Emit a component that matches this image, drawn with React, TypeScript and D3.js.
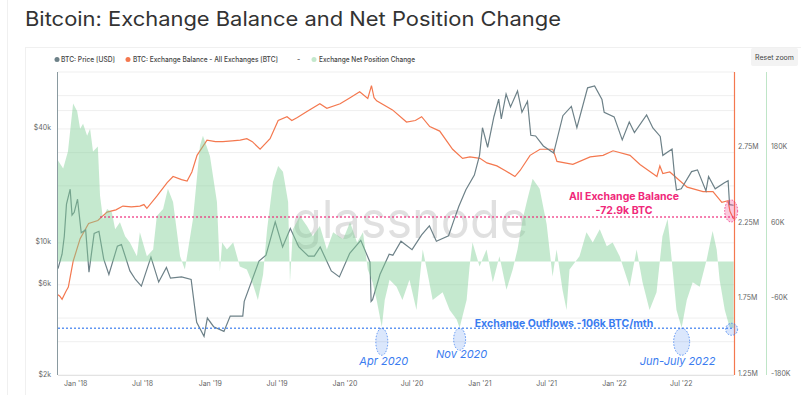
import React from "react";
import * as d3 from "d3";

// BTC price, USD
const priceSeries: [string, number][] = [
  ["2017-11-14", 7300], ["2017-11-25", 8700], ["2017-12-01", 10800], ["2017-12-07", 16000],
  ["2017-12-17", 19200], ["2017-12-22", 14000], ["2017-12-28", 14500], ["2018-01-06", 17000],
  ["2018-01-16", 11300], ["2018-01-28", 11700], ["2018-02-06", 7000], ["2018-02-20", 11200],
  ["2018-03-05", 11500], ["2018-03-18", 8200], ["2018-04-01", 6800], ["2018-04-24", 9600],
  ["2018-05-05", 9800], ["2018-05-28", 7100], ["2018-06-12", 6400], ["2018-06-28", 5900],
  ["2018-07-24", 8400], ["2018-08-14", 6200], ["2018-09-04", 7400], ["2018-09-15", 6500],
  ["2018-10-15", 6600], ["2018-11-10", 6400], ["2018-11-20", 4500], ["2018-11-25", 3800],
  ["2018-12-15", 3200], ["2018-12-24", 4000], ["2019-01-10", 3600], ["2019-02-07", 3400],
  ["2019-02-24", 4100], ["2019-03-30", 4100], ["2019-04-03", 4900], ["2019-05-13", 8000],
  ["2019-06-01", 8600], ["2019-06-26", 12900], ["2019-07-16", 9500], ["2019-08-06", 11900],
  ["2019-08-29", 9500], ["2019-09-24", 8500], ["2019-10-10", 8500], ["2019-10-26", 9500],
  ["2019-11-25", 7100], ["2019-12-17", 6600], ["2020-01-14", 8800], ["2020-02-13", 10300],
  ["2020-03-09", 7900], ["2020-03-12", 4900], ["2020-03-16", 5000], ["2020-04-05", 6800],
  ["2020-04-30", 8700], ["2020-05-10", 8600], ["2020-06-01", 10200], ["2020-07-01", 9200],
  ["2020-07-27", 11000], ["2020-08-17", 12300], ["2020-09-05", 10200], ["2020-10-08", 10900],
  ["2020-10-21", 12900], ["2020-11-05", 15600], ["2020-11-24", 19100], ["2020-12-17", 22800],
  ["2020-12-31", 29000], ["2021-01-08", 40600], ["2021-01-22", 32000], ["2021-02-08", 46400],
  ["2021-02-21", 57500], ["2021-02-28", 45200], ["2021-03-13", 61200], ["2021-03-25", 52300],
  ["2021-04-13", 63500], ["2021-04-25", 49000], ["2021-05-10", 56000], ["2021-05-19", 37000],
  ["2021-06-01", 36700], ["2021-06-22", 32500], ["2021-07-20", 29800], ["2021-08-14", 47000],
  ["2021-09-06", 52600], ["2021-09-21", 40600], ["2021-10-20", 66000], ["2021-11-08", 67500],
  ["2021-11-28", 57200], ["2021-12-04", 49000], ["2021-12-31", 46300], ["2022-01-22", 35000],
  ["2022-02-10", 43500], ["2022-02-24", 38300], ["2022-03-29", 47400], ["2022-04-15", 40500],
  ["2022-05-05", 36500], ["2022-05-12", 29000], ["2022-06-06", 31300], ["2022-06-13", 22500],
  ["2022-06-18", 19000], ["2022-07-01", 19300], ["2022-07-29", 23800], ["2022-08-14", 24300],
  ["2022-09-06", 18800], ["2022-09-13", 22400], ["2022-10-01", 19300], ["2022-10-26", 20800],
  ["2022-11-05", 21300], ["2022-11-09", 15900], ["2022-11-20", 15800],
];

// exchange balance, millions of BTC
const balanceSeries: [string, number][] = [
  ["2017-11-14", 1.78], ["2017-11-19", 1.77], ["2017-11-25", 1.75], ["2017-12-05", 1.8],
  ["2017-12-12", 1.83], ["2017-12-25", 2.0], ["2018-01-13", 2.15], ["2018-02-05", 2.25],
  ["2018-03-02", 2.27], ["2018-03-27", 2.325], ["2018-04-20", 2.34], ["2018-05-09", 2.365],
  ["2018-06-01", 2.36], ["2018-06-24", 2.365], ["2018-07-05", 2.375], ["2018-07-13", 2.35],
  ["2018-08-09", 2.43], ["2018-09-06", 2.52], ["2018-09-22", 2.56], ["2018-10-15", 2.54],
  ["2018-10-30", 2.53], ["2018-11-12", 2.59], ["2018-11-26", 2.7], ["2018-12-23", 2.8],
  ["2019-01-15", 2.79], ["2019-02-04", 2.79], ["2019-03-01", 2.795], ["2019-03-23", 2.8],
  ["2019-04-10", 2.81], ["2019-04-25", 2.79], ["2019-05-16", 2.74], ["2019-06-12", 2.81],
  ["2019-07-04", 2.93], ["2019-07-28", 2.955], ["2019-08-10", 2.93], ["2019-08-25", 2.95],
  ["2019-09-20", 2.99], ["2019-10-25", 3.04], ["2019-11-13", 3.01], ["2019-12-19", 3.04],
  ["2020-01-15", 3.08], ["2020-02-10", 3.12], ["2020-03-03", 3.075], ["2020-03-13", 3.16],
  ["2020-03-20", 3.08], ["2020-03-27", 3.06], ["2020-05-09", 3.0], ["2020-06-16", 2.92],
  ["2020-07-10", 2.93], ["2020-07-27", 2.955], ["2020-08-18", 2.89], ["2020-09-14", 2.86],
  ["2020-10-19", 2.74], ["2020-11-15", 2.68], ["2020-12-05", 2.69], ["2021-01-01", 2.68],
  ["2021-01-20", 2.65], ["2021-02-16", 2.63], ["2021-03-10", 2.6], ["2021-04-06", 2.56],
  ["2021-04-20", 2.6], ["2021-05-17", 2.7], ["2021-06-13", 2.74], ["2021-07-18", 2.74],
  ["2021-07-29", 2.66], ["2021-09-10", 2.64], ["2021-10-27", 2.69], ["2021-12-01", 2.7],
  ["2021-12-28", 2.73], ["2022-02-12", 2.7], ["2022-03-11", 2.64], ["2022-04-26", 2.56],
  ["2022-05-04", 2.63], ["2022-05-12", 2.58], ["2022-05-31", 2.59], ["2022-07-17", 2.49],
  ["2022-08-29", 2.46], ["2022-09-25", 2.46], ["2022-10-19", 2.39], ["2022-11-05", 2.4],
  ["2022-11-10", 2.33], ["2022-11-20", 2.28],
];

// 30d exchange net position change, thousands of BTC
const netSeries: [string, number][] = [
  ["2017-11-14", 160], ["2017-11-28", 147], ["2017-12-11", 174], ["2017-12-25", 250],
  ["2018-01-05", 238], ["2018-01-13", 210], ["2018-01-21", 218], ["2018-02-01", 199],
  ["2018-02-09", 210], ["2018-02-17", 174], ["2018-03-02", 182], ["2018-03-08", 104],
  ["2018-03-16", 67], ["2018-03-27", 83], ["2018-04-09", 78], ["2018-04-18", 51],
  ["2018-05-01", 62], ["2018-05-15", 40], ["2018-05-28", 30], ["2018-06-16", 8],
  ["2018-06-24", 46], ["2018-07-13", 8], ["2018-07-30", 19], ["2018-08-09", 72],
  ["2018-08-26", 83], ["2018-09-08", 115], ["2018-09-22", 94], ["2018-10-11", 8],
  ["2018-10-24", -13], ["2018-11-15", 67], ["2018-12-04", 183], ["2018-12-12", 199],
  ["2018-12-31", 167], ["2019-01-19", 94], ["2019-01-27", -16], ["2019-02-02", 30],
  ["2019-02-15", 19], ["2019-03-04", 30], ["2019-03-22", -8], ["2019-04-10", -13],
  ["2019-04-27", -37], ["2019-05-10", -61], ["2019-05-24", -21], ["2019-06-04", 51],
  ["2019-06-20", 126], ["2019-07-04", 151], ["2019-07-17", 142], ["2019-07-31", 94],
  ["2019-08-05", -33], ["2019-08-13", 51], ["2019-09-01", 72], ["2019-09-20", 56],
  ["2019-10-06", 40], ["2019-10-25", 56], ["2019-11-13", 19], ["2019-11-30", 46],
  ["2019-12-27", 35], ["2020-01-15", 62], ["2020-02-03", 30], ["2020-02-19", 46],
  ["2020-03-03", -13], ["2020-03-16", -33], ["2020-03-27", -61], ["2020-04-10", -104],
  ["2020-04-18", -61], ["2020-05-01", -29], ["2020-05-20", -40], ["2020-06-05", -61],
  ["2020-06-24", -29], ["2020-07-13", -77], ["2020-07-30", 19], ["2020-08-10", -13],
  ["2020-08-26", -61], ["2020-09-22", -49], ["2020-10-11", -77], ["2020-10-30", -92],
  ["2020-11-07", -105], ["2020-11-26", -61], ["2020-12-04", -8], ["2020-12-12", 30],
  ["2020-12-31", -8], ["2021-01-19", 19], ["2021-02-05", -33], ["2021-02-23", 8],
  ["2021-03-14", -45], ["2021-03-31", -13], ["2021-04-13", 19], ["2021-04-27", 67],
  ["2021-05-10", 99], ["2021-05-24", 131], ["2021-06-12", 115], ["2021-07-01", 59],
  ["2021-07-17", -24], ["2021-07-28", 19], ["2021-08-13", -45], ["2021-08-24", -77],
  ["2021-09-01", -13], ["2021-09-28", 8], ["2021-10-17", 46], ["2021-11-03", 30],
  ["2021-11-22", 51], ["2021-12-11", 24], ["2021-12-27", 30], ["2022-01-15", 8],
  ["2022-02-11", -40], ["2022-03-02", 19], ["2022-03-18", -33], ["2022-04-06", -77],
  ["2022-04-25", -49], ["2022-05-11", 40], ["2022-05-25", 67], ["2022-06-05", 3],
  ["2022-06-18", -77], ["2022-07-02", -105], ["2022-07-16", -61], ["2022-08-01", -33],
  ["2022-08-20", -40], ["2022-09-08", 3], ["2022-09-24", 48], ["2022-10-05", 19],
  ["2022-10-13", -29], ["2022-10-27", -77], ["2022-11-09", -104], ["2022-11-20", -106],
];

const priceTicks = [2000, 6000, 10000, 40000];
const priceGrid = [2000, 3000, 4000, 6000, 10000, 20000, 30000, 40000, 50000, 60000, 80000];
const balanceTicks = [1.25, 1.75, 2.25, 2.75];
const netTicks = [-180, -60, 60, 180];
const xTicks = ["2018-01-01", "2018-07-01", "2019-01-01", "2019-07-01", "2020-01-01",
  "2020-07-01", "2021-01-01", "2021-07-01", "2022-01-01", "2022-07-01"];

const balanceMarker = 2.293; // M BTC, dashed reference
const outflowMarker = -106; // K BTC/mth
const outflowEvents = [
  { date: "2020-04-10", label: "Apr 2020" },
  { date: "2020-11-07", label: "Nov 2020" },
  { date: "2022-07-02", label: "Jun-July 2022" },
];

const FONT = "Inter, 'Noto Sans', sans-serif";
const PRICE_C = "#6d8188";
const BAL_C = "#f4784f";
const NET_C = "#7fcf94";
const PINK = "#f0287a";
const BLUE = "#3a7cf0";

const M = { left: 58, right: 734, top: 72, bottom: 375 };

export default function App() {
  const pd = (s: string) => new Date(s + "T00:00:00Z");
  const x = d3.scaleUtc().domain([pd("2017-11-14"), pd("2022-11-21")]).range([M.left, M.right]);
  const yP = d3.scaleLog().domain([2000, 80000]).range([M.bottom, M.top]);
  const yB = d3.scaleLinear().domain([1.25, 3.25]).range([M.bottom, M.top]);
  const yN = d3.scaleLinear().domain([-180, 300]).range([M.bottom, M.top]);

  const priceLine = d3.line<[string, number]>().x((d) => x(pd(d[0]))).y((d) => yP(d[1]));
  const balLine = d3.line<[string, number]>().x((d) => x(pd(d[0]))).y((d) => yB(d[1]));
  const netArea = d3.area<[string, number]>()
    .x((d) => x(pd(d[0])))
    .y0(yN(0))
    .y1((d) => yN(d[1]));

  const endX = x(pd(balanceSeries[balanceSeries.length - 1][0]));
  const pinkY = yB(balanceMarker);
  const blueY = yN(outflowMarker);

  return (
    <svg width={801} height={395} style={{ position: "absolute", left: 0, top: 0, background: "#fff" }}
      fontFamily={FONT}>
      {/* card frame */}
      <line x1={7.5} x2={7.5} y1={0} y2={395} stroke="#f0f0f0" />
      <line x1={25.5} x2={25.5} y1={48} y2={395} stroke="#f0f0f0" />
      <line x1={25} x2={801} y1={47.5} y2={47.5} stroke="#f0f0f0" />

      <text x={25} y={26} fontSize={20} fill="#333" textLength={536} lengthAdjust="spacingAndGlyphs">
        Bitcoin: Exchange Balance and Net Position Change
      </text>

      {/* legend */}
      <g fontSize={7} fill="#444" fontWeight={500}>
        <circle cx={57} cy={59.5} r={2.5} fill={PRICE_C} />
        <text x={61} y={62} textLength={54} lengthAdjust="spacingAndGlyphs">BTC: Price [USD]</text>
        <circle cx={128} cy={59.5} r={2.5} fill={BAL_C} />
        <text x={133} y={62} textLength={145} lengthAdjust="spacingAndGlyphs">
          BTC: Exchange Balance - All Exchanges [BTC]
        </text>
        <text x={297} y={62}>-</text>
        <circle cx={314} cy={59.5} r={2.5} fill="#c3e8cc" />
        <text x={319} y={62} textLength={96} lengthAdjust="spacingAndGlyphs">Exchange Net Position Change</text>
      </g>

      {/* reset zoom button */}
      <rect x={751} y={48} width={47} height={18} rx={2} fill="#f3f3f3" />
      <text x={774.5} y={60} fontSize={7} fill="#444" textAnchor="middle">Reset zoom</text>

      {/* grid */}
      {priceGrid.map((v) => (
        <line key={v} x1={M.left} x2={M.right} y1={yP(v)} y2={yP(v)} stroke="#efefef" />
      ))}
      <line x1={M.left} x2={M.right} y1={M.bottom + 0.5} y2={M.bottom + 0.5} stroke="#e3e3e3" />

      {/* watermark */}
      <text x={410} y={238} fontSize={52} textAnchor="middle" fill="#000" fillOpacity={0.12}
        textLength={236} lengthAdjust="spacingAndGlyphs">glassnode</text>

      {/* series */}
      <path d={balLine(balanceSeries) ?? ""} fill="none" stroke={BAL_C} strokeWidth={1.2} />
      <path d={priceLine(priceSeries) ?? ""} fill="none" stroke={PRICE_C} strokeWidth={1.2} />
      <path d={netArea(netSeries) ?? ""} fill={NET_C} fillOpacity={0.45} />

      {/* axis lines */}
      <line x1={M.left - 0.5} x2={M.left - 0.5} y1={M.top} y2={M.bottom} stroke="#8a9aa0" />
      <line x1={M.right + 0.5} x2={M.right + 0.5} y1={M.top} y2={M.bottom} stroke={BAL_C} strokeWidth={1.2} />
      <line x1={766.5} x2={766.5} y1={M.top} y2={M.bottom} stroke="#bfe5c7" />

      {/* left axis */}
      <g fontSize={7} fill="#666" textAnchor="end">
        {priceTicks.map((v) => (
          <text key={v} x={51} y={yP(v) + 1.5}>{`$${v / 1000}k`}</text>
        ))}
      </g>
      {/* right axes */}
      <g fontSize={7} fill="#666">
        {balanceTicks.map((v) => (
          <text key={v} x={738} y={yB(v) + 1}>{`${v}M`}</text>
        ))}
        {netTicks.map((v) => (
          <text key={v} x={771} y={yN(v) + 1}>{`${v}K`}</text>
        ))}
      </g>
      {/* x axis */}
      <g fontSize={7} fill="#666" textAnchor="middle">
        {xTicks.map((s) => {
          const d = pd(s);
          const lbl = `${d3.utcFormat("%b")(d)} '${d3.utcFormat("%y")(d)}`;
          return <text key={s} x={x(d)} y={386}>{lbl}</text>;
        })}
      </g>

      {/* annotations: balance */}
      <line x1={x(pd("2018-03-08"))} x2={endX} y1={pinkY} y2={pinkY} stroke={PINK}
        strokeWidth={1.4} strokeDasharray="2,2" opacity={0.8} />
      <ellipse cx={endX - 2.5} cy={pinkY - 6} rx={6.5} ry={11} fill={PINK} fillOpacity={0.25}
        stroke={PINK} strokeDasharray="1.5,1.5" strokeWidth={0.8} />
      <g fontSize={10.5} fontWeight={700} fill={PINK} textAnchor="middle">
        <text x={624} y={200}>All Exchange Balance</text>
        <text x={624} y={214}>-72.9k BTC</text>
      </g>

      {/* annotations: outflows */}
      <line x1={M.left} x2={endX} y1={blueY} y2={blueY} stroke={BLUE}
        strokeWidth={1.4} strokeDasharray="2,2" opacity={0.8} />
      <text x={564} y={327} fontSize={10.5} fontWeight={700} fill={BLUE} textAnchor="middle">
        Exchange Outflows -106k BTC/mth
      </text>
      {outflowEvents.map((e, i) => {
        const cx = x(pd(e.date));
        const ry = i === 1 ? 11 : 13.5;
        const rx = i === 2 ? 8 : 6;
        const ly = i === 1 ? 358 : 365;
        return (
          <g key={e.label}>
            <ellipse cx={cx} cy={blueY + ry} rx={rx} ry={ry} fill={BLUE} fillOpacity={0.18}
              stroke={BLUE} strokeDasharray="1.5,1.5" strokeWidth={0.8} />
            <text x={cx + (i === 2 ? -4 : 2)} y={ly} fontSize={11} fontStyle="italic" fill={BLUE}
              textAnchor="middle">{e.label}</text>
          </g>
        );
      })}
      <circle cx={endX - 2} cy={blueY + 1} r={6} fill={BLUE} fillOpacity={0.2}
        stroke={BLUE} strokeDasharray="1.5,1.5" strokeWidth={0.8} />
    </svg>
  );
}
